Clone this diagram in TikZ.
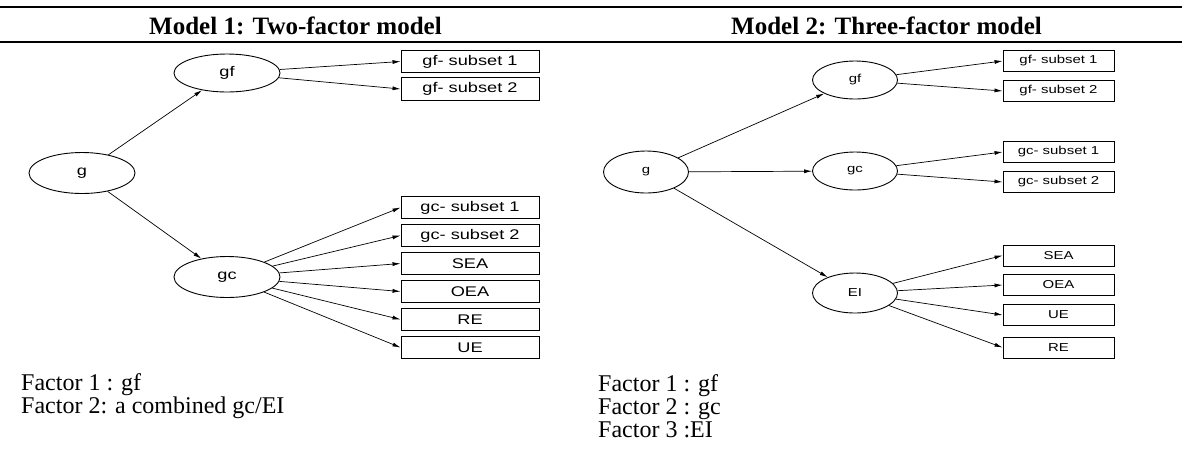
\documentclass[tikz,border=0pt]{standalone}
\usepackage{fontspec}
\setmainfont{Liberation Serif}
\newfontfamily\boxfont[FakeStretch=1.3]{Liberation Sans}
\usetikzlibrary{shapes.geometric,arrows.meta}
\begin{document}
\begin{tikzpicture}[x=1pt,y=-1pt,
  rule/.style={line width=2.2pt},
  title/.style={anchor=base,inner sep=0pt,font=\bfseries\fontsize{25}{30}\selectfont},
  note/.style={anchor=base west,inner sep=0pt,font=\fontsize{24}{28}\selectfont},
  latA/.style={ellipse,draw,line width=0.9pt,inner sep=0pt,minimum width=106pt,minimum height=41pt,font=\boxfont\fontsize{14}{16}\selectfont},
  obsA/.style={rectangle,draw,line width=0.9pt,inner sep=0pt,minimum width=138pt,minimum height=22.5pt,font=\boxfont\fontsize{14}{16}\selectfont},
  latB/.style={ellipse,draw,line width=0.9pt,inner sep=0pt,minimum width=85pt,minimum height=38pt,font=\boxfont\fontsize{11.5}{13}\selectfont},
  obsB/.style={rectangle,draw,line width=0.9pt,inner sep=0pt,minimum width=111pt,minimum height=21pt,font=\boxfont\fontsize{11.5}{13}\selectfont},
  conn/.style={-{Latex[length=8pt,width=4pt]},line width=0.7pt}
]
\useasboundingbox (0,0) rectangle (1182,451);
% header rules
\coordinate (r1a) at (0,7);
\coordinate (r1b) at (1182,7);
\coordinate (r2a) at (0,42);
\coordinate (r2b) at (1182,42);
\draw[rule] (r1a) -- (r1b);
\draw[rule] (r2a) -- (r2b);
\node[title] (t1) at (295.5,34) {Model 1: Two-factor model};
\node[title] (t2) at (886.5,34) {Model 2: Three-factor model};

% ---------- Model 1 ----------
\node[latA] (ag)  at (82,173) {g};
\node[latA,minimum height=38pt] (agf) at (227,73) {gf};
\node[latA] (agc) at (227,277) {gc};
\node[obsA] (af1) at (470,61.5) {gf- subset 1};
\node[obsA] (af2) at (470,89) {gf- subset 2};
\node[obsA] (ac1) at (470,207.5) {gc- subset 1};
\node[obsA] (ac2) at (470,235.5) {gc- subset 2};
\node[obsA] (asea) at (470,263.5) {SEA};
\node[obsA] (aoea) at (470,291.5) {OEA};
\node[obsA] (are) at (470,319.5) {RE};
\node[obsA] (aue) at (470,347.5) {UE};
\draw[conn] (ag) -- (agf);
\draw[conn] (ag) -- (agc);
\draw[conn] (agf) -- (af1.west);
\draw[conn] (agf) -- (af2.west);
\draw[conn] (agc) -- (ac1.west);
\draw[conn] (agc) -- (ac2.west);
\draw[conn] (agc) -- (asea.west);
\draw[conn] (agc) -- (aoea.west);
\draw[conn] (agc) -- (are.west);
\draw[conn] (agc) -- (aue.west);
\node[note] (an1) at (21,390) {Factor 1 : gf};
\node[note] (an2) at (21,413) {Factor 2: a combined gc/EI};

% ---------- Model 2 ----------
\node[latB,minimum height=42pt] (bg) at (646,172) {g};
\node[latB] (bgf) at (855,80) {gf};
\node[latB] (bgc) at (855,171) {gc};
\node[latB,minimum height=40pt] (bei) at (855,293) {EI};
\node[obsB] (bf1) at (1058.5,61) {gf- subset 1};
\node[obsB] (bf2) at (1058.5,91) {gf- subset 2};
\node[obsB] (bc1) at (1058.5,152) {gc- subset 1};
\node[obsB] (bc2) at (1058.5,182) {gc- subset 2};
\node[obsB] (bsea) at (1058.5,255.5) {SEA};
\node[obsB] (boea) at (1058.5,285) {OEA};
\node[obsB] (bue) at (1058.5,315) {UE};
\node[obsB] (bre) at (1058.5,347.5) {RE};
\draw[conn] (bg) -- (bgf);
\draw[conn] (bg) -- (bgc);
\draw[conn] (bg) -- (bei);
\draw[conn] (bgf) -- (bf1.west);
\draw[conn] (bgf) -- (bf2.west);
\draw[conn] (bgc) -- (bc1.west);
\draw[conn] (bgc) -- (bc2.west);
\draw[conn] (bei) -- (bsea.west);
\draw[conn] (bei) -- (boea.west);
\draw[conn] (bei) -- (bue.west);
\draw[conn] (bei) -- (bre.west);
\node[note] (bn1) at (598,391) {Factor 1 : gf};
\node[note] (bn2) at (598,414) {Factor 2 : gc};
\node[note] (bn3) at (598,437) {Factor 3 :EI};
\end{tikzpicture}
\end{document}
